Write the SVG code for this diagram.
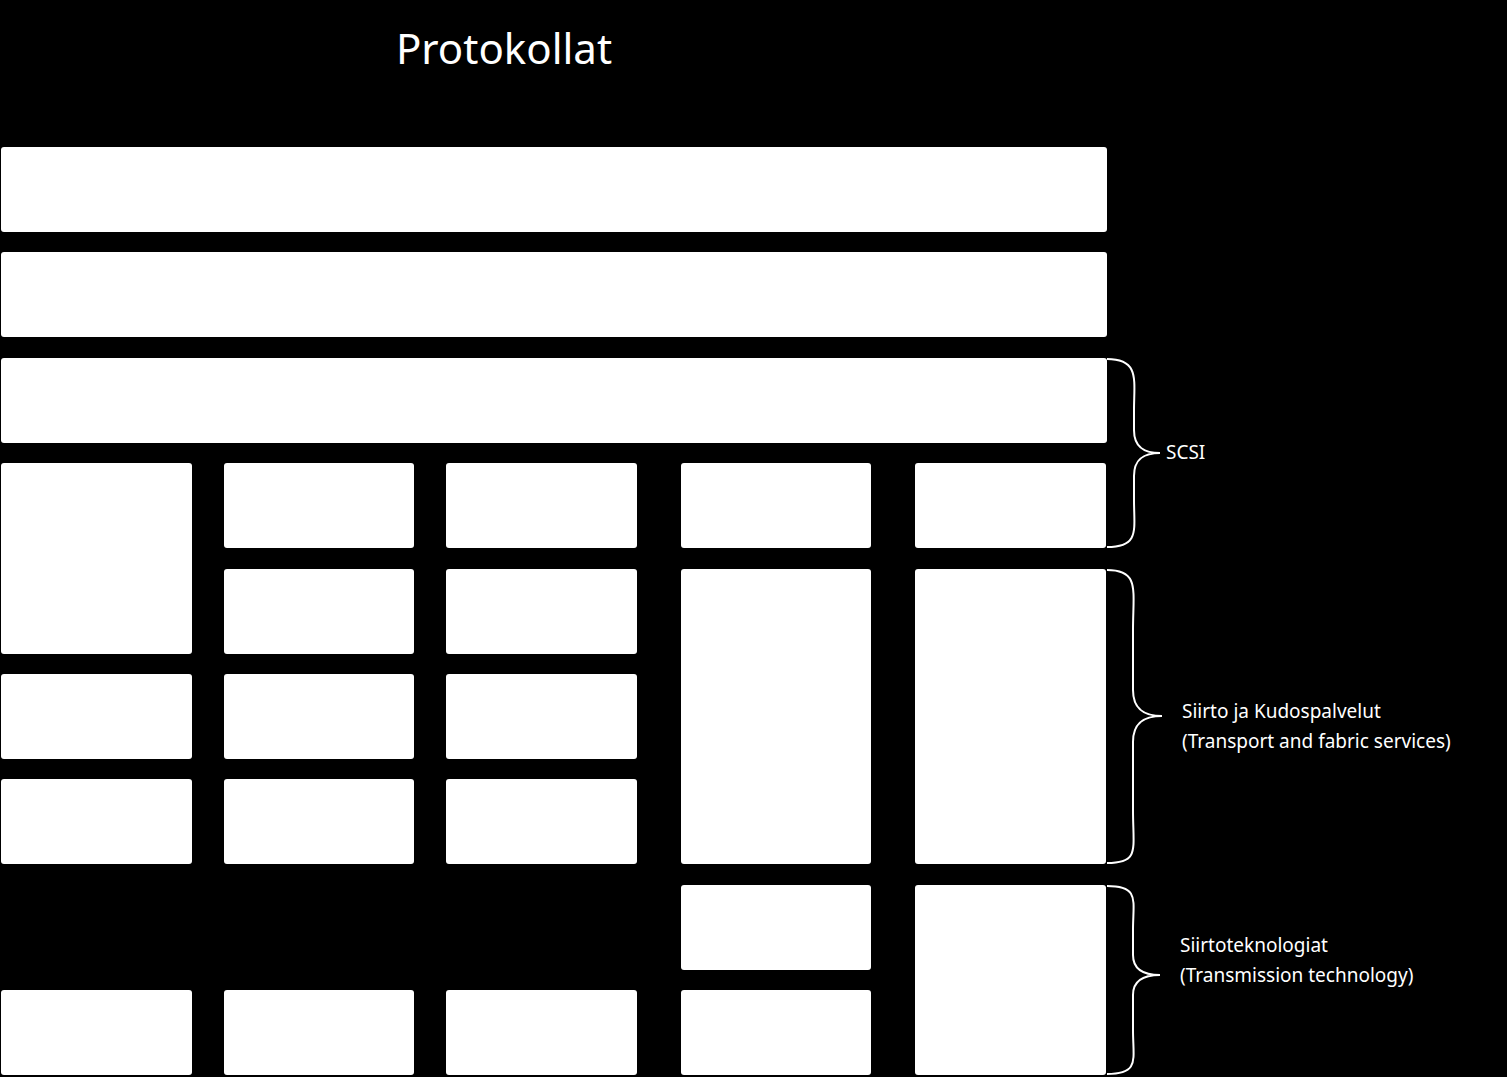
<svg xmlns="http://www.w3.org/2000/svg" width="1507" height="1077" viewBox="0 0 1507 1077">
<style>
.b{fill:#fff;}
.t{fill:#fff;font-family:"Noto Sans","Liberation Sans",sans-serif;}
.br{fill:none;stroke:#fff;stroke-width:2;}
</style>
<rect width="1507" height="1077" fill="#000"/>
<text class="t" x="504" y="64" font-size="42" text-anchor="middle">Protokollat</text>
<g id="n1"><rect class="b" x="1" y="147" width="1106" height="85" rx="3"/></g>
<g id="n2"><rect class="b" x="1" y="252" width="1106" height="85" rx="3"/></g>
<g id="n3"><rect class="b" x="1" y="358" width="1106" height="85" rx="3"/></g>
<g id="c1"><rect class="b" x="1" y="463" width="191" height="191" rx="3"/><rect class="b" x="1" y="674" width="191" height="85" rx="3"/><rect class="b" x="1" y="779" width="191" height="85" rx="3"/><rect class="b" x="1" y="990" width="191" height="85" rx="3"/></g>
<g id="c2"><rect class="b" x="224" y="463" width="190" height="85" rx="3"/><rect class="b" x="224" y="569" width="190" height="85" rx="3"/><rect class="b" x="224" y="674" width="190" height="85" rx="3"/><rect class="b" x="224" y="779" width="190" height="85" rx="3"/><rect class="b" x="224" y="990" width="190" height="85" rx="3"/></g>
<g id="c3"><rect class="b" x="446" y="463" width="191" height="85" rx="3"/><rect class="b" x="446" y="569" width="191" height="85" rx="3"/><rect class="b" x="446" y="674" width="191" height="85" rx="3"/><rect class="b" x="446" y="779" width="191" height="85" rx="3"/><rect class="b" x="446" y="990" width="191" height="85" rx="3"/></g>
<g id="c4"><rect class="b" x="681" y="463" width="190" height="85" rx="3"/><rect class="b" x="681" y="569" width="190" height="295" rx="3"/><rect class="b" x="681" y="885" width="190" height="85" rx="3"/><rect class="b" x="681" y="990" width="190" height="85" rx="3"/></g>
<g id="c5"><rect class="b" x="915" y="463" width="191" height="85" rx="3"/><rect class="b" x="915" y="569" width="191" height="295" rx="3"/><rect class="b" x="915" y="885" width="191" height="190" rx="3"/></g>
<g id="braces">
<path class="br" d="M1107,359 C1140,359 1134,380 1134,410 L1134,430 C1134,448 1145,453 1160,453 C1145,453 1134,458 1134,476 L1134,500 C1134,530 1140,547 1107,547"/>
<path class="br" d="M1107,570 C1140,570 1133,590 1133,630 L1133,690 C1133,710 1145,716 1162,716 C1145,716 1133,722 1133,742 L1133,810 C1133,850 1140,863 1107,863"/>
<path class="br" d="M1107,886 C1140,886 1133,900 1133,930 L1133,955 C1133,970 1145,975 1160,975 C1145,975 1133,980 1133,995 L1133,1030 C1133,1060 1140,1074 1107,1074"/>
</g>
<text class="t" x="1166" y="459" font-size="19">SCSI</text>
<text class="t" x="1182" y="718" font-size="19">Siirto ja Kudospalvelut</text>
<text class="t" x="1182" y="748" font-size="19">(Transport and fabric services)</text>
<text class="t" x="1180" y="952" font-size="19">Siirtoteknologiat</text>
<text class="t" x="1180" y="982" font-size="19">(Transmission technology)</text>
</svg>
